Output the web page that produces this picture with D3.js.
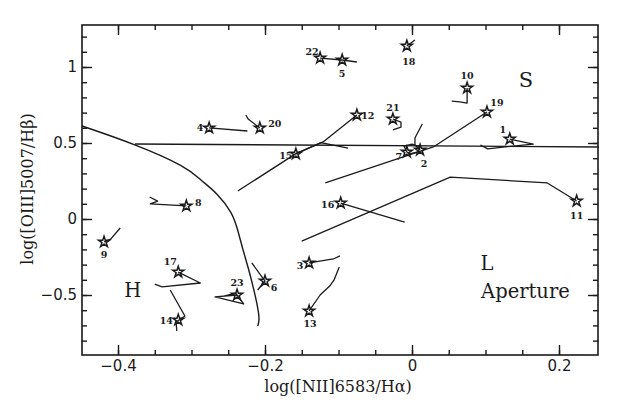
<!DOCTYPE html>
<html><head><meta charset="utf-8">
<script src="https://cdn.jsdelivr.net/npm/d3@7"></script>
<style>body{margin:0;background:#fff}svg{display:block}</style>
</head><body><svg id="c" width="623" height="410"></svg>
<script>
// ---- axis ticks ----
const xMinorTicks = [-0.4,-0.35,-0.3,-0.25,-0.2,-0.15,-0.1,-0.05,0,0.05,0.1,0.15,0.2];
const xMajorTicks = [-0.4,-0.2,0,0.2];
const xTickLabels = ["\u22120.4","\u22120.2","0","0.2"];
const yMinorTicks = [-0.8,-0.7,-0.6,-0.5,-0.4,-0.3,-0.2,-0.1,0,0.1,0.2,0.3,0.4,0.5,0.6,0.7,0.8,0.9,1,1.1,1.2];
const yMajorTicks = [-0.5,0,0.5,1];
const yTickLabels = ["\u22120.5","0","0.5","1"];

// ---- demarcation curve and horizontal divider ----
const curveX = [-0.449,-0.377,-0.306,-0.288,-0.265,-0.244,-0.237,-0.230,-0.223,-0.216,-0.211,-0.207,-0.210];
const curveY = [0.612,0.493,0.342,0.257,0.171,0.039,-0.072,-0.204,-0.316,-0.447,-0.553,-0.664,-0.704];
const dividerX = [-0.377,0.254];
const dividerY = [0.493,0.474];

// ---- tracks (star = first point unless noted) ----
const trackIds = [1,2,3,4,5,6,7,8,9,10,11,12,13,14,15,16,17,18,19,20,21,22,23];
const starX = [0.133,0.011,-0.140,-0.276,-0.095,-0.200,-0.007,-0.307,-0.419,0.075,0.224,-0.075,-0.140,-0.318,-0.158,-0.097,-0.318,-0.007,0.102,-0.207,-0.026,-0.125,-0.238];
const starY = [0.526,0.454,-0.289,0.599,1.046,-0.408,0.441,0.086,-0.151,0.862,0.118,0.684,-0.605,-0.664,0.428,0.105,-0.349,1.138,0.704,0.599,0.658,1.059,-0.500];
const track1  = [[0.133,0.526],[0.165,0.493],[0.127,0.474],[0.103,0.461],[0.093,0.487]];
const track2  = [[0.011,0.454],[0.004,0.487],[0.004,0.533],[0.014,0.625]];
const track3  = [[-0.140,-0.289],[-0.107,-0.263],[-0.098,-0.243]];
const track4  = [[-0.276,0.599],[-0.224,0.579]];
const track5  = [[-0.095,1.046],[-0.075,1.033]];
const track6  = [[-0.218,-0.289],[-0.200,-0.408],[-0.210,-0.467]];
const track7  = [[-0.007,0.441],[-0.011,0.480],[0.000,0.493],[0.011,0.474],[0.008,0.441],[-0.003,0.428],[-0.007,0.441]];
const track8  = [[-0.307,0.086],[-0.356,0.099],[-0.346,0.118],[-0.357,0.145]];
const track9  = [[-0.419,-0.151],[-0.410,-0.132],[-0.397,-0.059]];
const track10 = [[0.075,0.862],[0.075,0.763],[0.065,0.770],[0.054,0.776]];
const track11 = [[0.224,0.118],[0.184,0.237],[0.052,0.276],[-0.150,-0.145]];
const track12 = [[-0.075,0.684],[-0.121,0.507],[-0.158,0.430],[-0.237,0.184]];
const track13 = [[-0.140,-0.605],[-0.125,-0.500],[-0.112,-0.441],[-0.106,-0.401],[-0.099,-0.316]];
const track14 = [[-0.329,-0.467],[-0.309,-0.638],[-0.321,-0.678],[-0.320,-0.737]];
const track15 = [[-0.158,0.428],[-0.124,0.503],[-0.087,0.467]];
const track16 = [[-0.097,0.105],[-0.010,-0.020]];
const track17 = [[-0.318,-0.349],[-0.288,-0.421],[-0.340,-0.447],[-0.350,-0.428]];
const track18 = [[-0.007,1.138],[0.004,1.178]];
const track19 = [[0.102,0.704],[0.029,0.474],[-0.118,0.237]];
const track20 = [[-0.207,0.599],[-0.223,0.658],[-0.226,0.684]];
const track21 = [[-0.026,0.658],[-0.015,0.638],[-0.015,0.605],[-0.026,0.586]];
const track22 = [[-0.125,1.059],[-0.095,1.046]];
const track23 = [[-0.238,-0.500],[-0.268,-0.513],[-0.229,-0.559],[-0.240,-0.487],[-0.256,-0.507]];
const tracks = [track1,track2,track3,track4,track5,track6,track7,track8,track9,track10,track11,track12,track13,track14,track15,track16,track17,track18,track19,track20,track21,track22,track23];

// label offsets in pixels (layout only)
const labelOffsets = {1:[-7,-10],2:[4,14],3:[-9,3],4:[-9,0],5:[0,13],6:[9,6],7:[-8,5],8:[12,-3],9:[0,13],10:[0,-12],11:[0,14],12:[11,0],13:[1,13],14:[-12,1],15:[-10,2],16:[-13,1],17:[-8,-11],18:[2,15],19:[10,-9],20:[15,-4],21:[0,-11],22:[-8,-7],23:[0,-13]};

const regionTexts = ["H","S","L","Aperture"];
const regionX = [-0.380,0.155,0.102,0.094];
const regionY = [-0.510,0.870,-0.335,-0.520];

// ---- drawing ----
const svg = d3.select("#c");
const L=82, R=598, T=25, B=355;
const x = d3.scaleLinear().domain([-0.4,0.2]).range([118,559]);
const y = d3.scaleLinear().domain([-0.5,1]).range([295,67]);
const ink = "#1a1a1a";

const g = svg.append("g");

// frame
g.append("rect").attr("x",L).attr("y",T).attr("width",R-L).attr("height",B-T)
  .attr("fill","none").attr("stroke",ink).attr("stroke-width",1.6);

function styleAxis(sel){
  sel.select(".domain").remove();
  sel.selectAll(".tick line").attr("stroke",ink).attr("stroke-width",1.4);
}
// bottom
g.append("g").attr("transform",`translate(0,${B})`)
  .call(d3.axisBottom(x).tickValues(xMinorTicks).tickSize(-5).tickFormat("")).call(styleAxis);
g.append("g").attr("transform",`translate(0,${B})`)
  .call(d3.axisBottom(x).tickValues(xMajorTicks).tickSize(-10).tickPadding(5)
    .tickFormat((d,i)=>xTickLabels[i])).call(styleAxis)
  .selectAll("text").attr("font-family","DejaVu Sans").attr("font-size",15).attr("fill",ink);
// top
g.append("g").attr("transform",`translate(0,${T})`)
  .call(d3.axisTop(x).tickValues(xMinorTicks).tickSize(-5).tickFormat("")).call(styleAxis);
g.append("g").attr("transform",`translate(0,${T})`)
  .call(d3.axisTop(x).tickValues(xMajorTicks).tickSize(-10).tickFormat("")).call(styleAxis);
// left
g.append("g").attr("transform",`translate(${L},0)`)
  .call(d3.axisLeft(y).tickValues(yMinorTicks).tickSize(-5).tickFormat("")).call(styleAxis);
g.append("g").attr("transform",`translate(${L},0)`)
  .call(d3.axisLeft(y).tickValues(yMajorTicks).tickSize(-10).tickPadding(5)
    .tickFormat((d,i)=>yTickLabels[i])).call(styleAxis)
  .selectAll("text").attr("font-family","DejaVu Sans").attr("font-size",15).attr("fill",ink);
// right
g.append("g").attr("transform",`translate(${R},0)`)
  .call(d3.axisRight(y).tickValues(yMinorTicks).tickSize(-5).tickFormat("")).call(styleAxis);
g.append("g").attr("transform",`translate(${R},0)`)
  .call(d3.axisRight(y).tickValues(yMajorTicks).tickSize(-10).tickFormat("")).call(styleAxis);

// axis titles
g.append("text").attr("x",338).attr("y",392).attr("text-anchor","middle")
  .attr("font-family","DejaVu Serif").attr("font-size",16).attr("fill",ink)
  .text("log([NII]6583/H\u03b1)");
g.append("text").attr("transform","translate(33,189) rotate(-90)").attr("text-anchor","middle")
  .attr("font-family","DejaVu Serif").attr("font-size",16).attr("fill",ink)
  .text("log([OIII]5007/H\u03b2)");

const line = d3.line().x(d=>x(d[0])).y(d=>y(d[1]));
// demarcation curve
g.append("path").attr("d", d3.line().curve(d3.curveBasis).x(d=>x(d[0])).y(d=>y(d[1]))(curveX.map((v,i)=>[v,curveY[i]])))
  .attr("fill","none").attr("stroke",ink).attr("stroke-width",1.4);
g.append("path").attr("d", line(dividerX.map((v,i)=>[v,dividerY[i]])))
  .attr("fill","none").attr("stroke",ink).attr("stroke-width",1.4);

// tracks
tracks.forEach(t=>{
  g.append("path").attr("d",line(t)).attr("fill","none").attr("stroke",ink)
    .attr("stroke-width",1.3).attr("stroke-linejoin","round");
});
// stars
const star = d3.symbol().type(d3.symbolStar).size(38);
trackIds.forEach((id,i)=>{
  g.append("path").attr("d",star()).attr("transform",`translate(${x(starX[i])},${y(starY[i])})`)
    .attr("fill","none").attr("stroke",ink).attr("stroke-width",1.5);
  const o = labelOffsets[id];
  g.append("text").attr("x",x(starX[i])+o[0]).attr("y",y(starY[i])+o[1])
    .attr("text-anchor","middle").attr("dominant-baseline","central")
    .attr("font-family","DejaVu Serif").attr("font-weight","bold").attr("font-size",9.5)
    .attr("fill",ink).text(id);
});

// region labels
regionTexts.forEach((t,i)=>{
  g.append("text").attr("x",x(regionX[i])).attr("y",y(regionY[i]))
    .attr("text-anchor", i===3 ? "start" : "middle")
    .attr("font-family","DejaVu Serif").attr("font-size", i===1 ? 21 : 19.5).attr("fill",ink).text(t);
});
</script>
</body></html>
